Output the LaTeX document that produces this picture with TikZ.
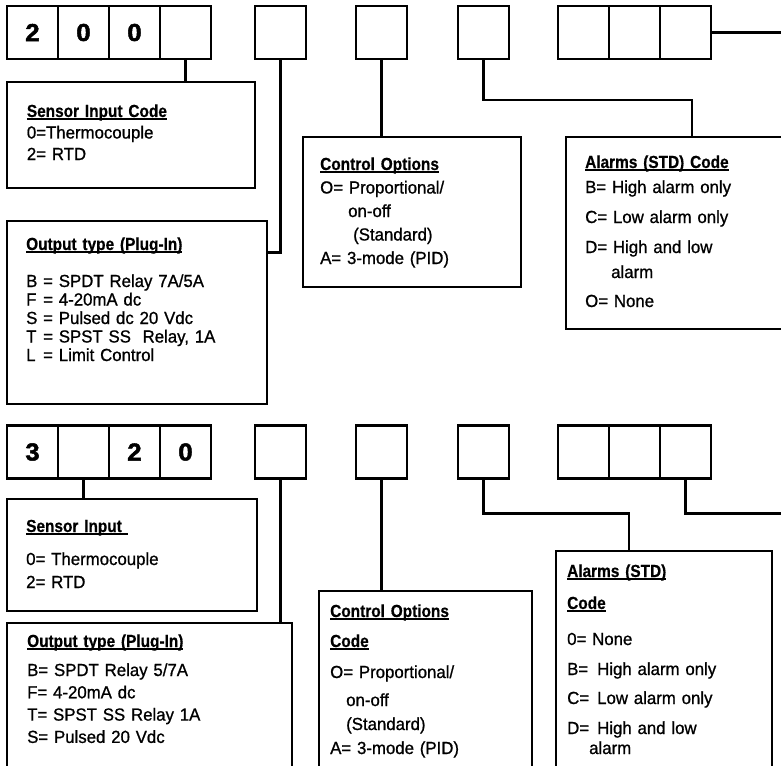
\documentclass[tikz,border=0pt]{standalone}
\usepackage{fontspec}
\setmainfont[FakeStretch=0.96,FakeBold=0.9]{Liberation Sans}
\newfontfamily\hdfont[FakeStretch=0.88,FakeBold=0.6]{Liberation Sans}
\newfontfamily\digfont[FakeStretch=1.05,FakeBold=2]{Liberation Sans}
\usetikzlibrary{positioning}

\newcommand{\hd}[1]{\leavevmode{\hdfont\bfseries\setbox0=\hbox{#1}\rlap{\rule[-2.8pt]{\wd0}{1.6pt}}\box0}}

\begin{document}
\begin{tikzpicture}[x=1pt, y=-1pt,
    cell/.style={draw, line width=2.6pt, outer sep=0pt, inner sep=0pt, minimum width=51pt, minimum height=53pt, font=\digfont\bfseries\fontsize{24.5}{24.5}\selectfont},
    box/.style={draw, line width=2.6pt, outer sep=0pt, inner sep=0pt},
    conn/.style={line width=2.6pt},
    txt/.style={anchor=base west, inner sep=0pt, text width=230pt, align=left, font=\fontsize{17.5}{#1}\selectfont}
]
\path[use as bounding box, fill=white] (0,0) rectangle (781,765);

\node[cell] (A1) at (32.5,32.5) {2};
\node[cell] (A2) at (83.5,32.5) {0};
\node[cell] (A3) at (134.5,32.5) {0};
\node[cell] (A4) at (185.5,32.5) {};
\node[cell] (A5) at (280.5,32.5) {};
\node[cell] (A6) at (381.5,32.5) {};
\node[cell] (A7) at (483.5,32.5) {};
\node[cell] (A8) at (583.5,32.5) {};
\node[cell] (A9) at (634.5,32.5) {};
\node[cell] (A10) at (685.5,32.5) {};
\coordinate (endA) at (790,32.5);

\node[box, minimum width=248pt, minimum height=106pt] (sensA) at (131,135) {};
\node[box, minimum width=260pt, minimum height=183pt] (outA) at (137,312.5) {};
\node[box, minimum width=218pt, minimum height=150pt] (ctrlA) at (412,212) {};
\node[box, minimum width=252pt, minimum height=192pt] (almA) at (692,233) {};

\node[txt=21.5] (sensAt) at (26.7,117) {\hd{Sensor Input Code}\\ 0=Thermocouple\\ 2= RTD};
\node[txt=18.5] (outAt) at (26,250) {\hd{Output type (Plug-In)}\\[18.5pt]
    \makebox[17pt][l]{B}= SPDT Relay 7A/5A\\
    \makebox[17pt][l]{F}= 4-20mA dc\\
    \makebox[17pt][l]{S}= Pulsed dc 20 Vdc\\
    \makebox[17pt][l]{T}= SPST SS\ \ Relay, 1A\\
    \makebox[17pt][l]{L}= Limit Control};
\node[txt=23.5] (ctrlAt) at (320,170) {\hd{Control Options}\\ O= Proportional/\\
    \hspace*{28pt}on-off\\ \hspace*{33pt}(Standard)\\ A= 3-mode (PID)};
\node[txt=25] (almAt) at (585,168) {\hd{Alarms (STD) Code}\\ B= High alarm only\\[5pt]
    C= Low alarm only\\[5pt] D= High and low\\ \hspace*{26pt}alarm\\[4pt] O= None};

\draw[conn] (A4.south) -- (A4.south |- sensA.north);
\draw[conn] (A5.south) |- ([yshift=60pt]outA.east);
\draw[conn] (A6.south) -- (A6.south |- ctrlA.north);
\draw[conn] (A7.south) -- ++(0,41) -| (almA.north);
\draw[conn] (A10.east) -- (endA);

\node[cell] (B1) at (32.5,452) {3};
\node[cell] (B2) at (83.5,452) {};
\node[cell] (B3) at (134.5,452) {2};
\node[cell] (B4) at (185.5,452) {0};
\node[cell] (B5) at (280.5,452) {};
\node[cell] (B6) at (381.5,452) {};
\node[cell] (B7) at (483.5,452) {};
\node[cell] (B8) at (583.5,452) {};
\node[cell] (B9) at (634.5,452) {};
\node[cell] (B10) at (685.5,452) {};
\coordinate (endB) at (790,513.5);

\node[box, minimum width=250pt, minimum height=112pt] (sensB) at (132,555) {};
\node[box, minimum width=285pt, minimum height=177pt] (outB) at (149.5,711.5) {};
\node[box, minimum width=213pt, minimum height=209pt] (ctrlB) at (425.5,695.5) {};
\node[box, minimum width=216pt, minimum height=249pt] (almB) at (664,675.5) {};

\node[txt=23] (sensBt) at (26,532) {\hd{Sensor Input\ }\\[10pt] 0= Thermocouple\\ 2= RTD};
\node[txt=22.3] (outBt) at (27,647) {\hd{Output type (Plug-In)}\\[6.7pt]
    B= SPDT Relay 5/7A\\ F= 4-20mA dc\\ T= SPST SS Relay 1A\\ S= Pulsed 20 Vdc};
\node[txt=24] (ctrlBt) at (330,617) {\hd{Control Options}\\[6pt] \hd{Code}\\[7pt]
    O= Proportional/\\[4pt] \hspace*{16pt}on-off\\ \hspace*{16pt}(Standard)\\ A= 3-mode (PID)};
\node[txt=20] (almBt) at (567,577) {\hd{Alarms (STD)}\\[12pt] \hd{Code}\\[16pt]
    \makebox[25pt][l]{0=}None\\[10pt]
    \makebox[30pt][l]{B=}High alarm only\\[9pt]
    \makebox[30pt][l]{C=}Low alarm only\\[10pt]
    \makebox[30pt][l]{D=}High and low\\ \hspace*{22pt}alarm};

\draw[conn] (B2.south) -- (B2.south |- sensB.north);
\draw[conn] (B5.south) -- (B5.south |- outB.north);
\draw[conn] (B6.south) -- (B6.south |- ctrlB.north);
\draw[conn] (B7.south) -- ++(0,35) -| ([xshift=-35pt]almB.north);
\draw[conn] (B10.south) |- (endB);
\end{tikzpicture}
\end{document}
